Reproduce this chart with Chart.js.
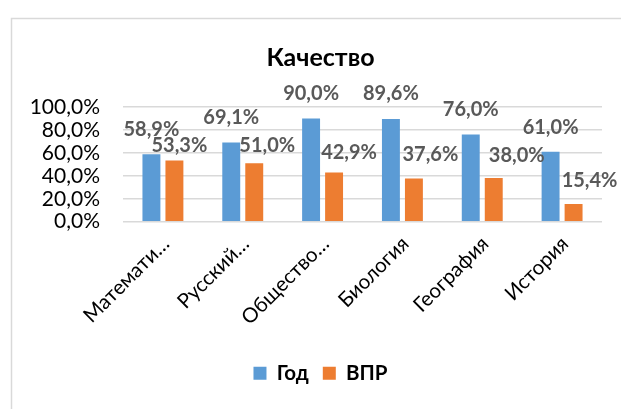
<!DOCTYPE html>
<html>
<head>
<meta charset="utf-8">
<script src="https://cdn.jsdelivr.net/npm/chart.js@4.4.1/dist/chart.umd.min.js"></script>
<style>
html,body{margin:0;padding:0;background:#fff;}
#wrap{position:relative;width:621px;height:409px;}
</style>
</head>
<body>
<div id="wrap"><canvas id="c" width="621" height="409"></canvas></div>
<script>
const categories = ["Математи…", "Русский…", "Общество…", "Биология", "География", "История"];
const seriesNames = ["Год", "ВПР"];
const godValues = [58.9, 69.1, 90.0, 89.6, 76.0, 61.0];
const vprValues = [53.3, 51.0, 42.9, 37.6, 38.0, 15.4];
const yTicks = [0, 20, 40, 60, 80, 100];
const chartTitle = "Качество";

const fmt = v => v.toFixed(1).replace('.', ',') + '%';

const framePlugin = {
  id: 'frame',
  beforeDraw(chart) {
    const ctx = chart.ctx;
    ctx.save();
    ctx.strokeStyle = '#D9D9D9';
    ctx.lineWidth = 1.5;
    ctx.beginPath();
    ctx.moveTo(11.5, 409);
    ctx.lineTo(11.5, 18.5);
    ctx.lineTo(621, 18.5);
    ctx.stroke();
    ctx.restore();
  }
};

const labelPlugin = {
  id: 'barLabels',
  afterDatasetsDraw(chart, args, opts) {
    const ctx = chart.ctx;
    ctx.save();
    ctx.font = 'bold 20px Lato';
    ctx.fillStyle = '#595959';
    ctx.textAlign = 'center';
    ctx.textBaseline = 'middle';
    chart.data.datasets.forEach((ds, di) => {
      const meta = chart.getDatasetMeta(di);
      const off = opts.offsets[di];
      meta.data.forEach((bar, i) => {
        ctx.fillText(fmt(ds.data[i]), bar.x + off.dx[i], bar.y - off.dy[i]);
      });
    });
    ctx.restore();
  }
};

new Chart(document.getElementById('c'), {
  type: 'bar',
  data: {
    labels: categories,
    datasets: [
      { label: seriesNames[0], data: godValues, backgroundColor: '#5B9BD5', borderWidth: 0,
        categoryPercentage: 0.576, barPercentage: 0.78 },
      { label: seriesNames[1], data: vprValues, backgroundColor: '#ED7D31', borderWidth: 0,
        categoryPercentage: 0.576, barPercentage: 0.78 }
    ]
  },
  plugins: [framePlugin, labelPlugin],
  options: {
    responsive: false,
    animation: false,
    devicePixelRatio: 1,
    layout: { padding: { left: 20, right: 0, top: 0, bottom: 15.5 } },
    plugins: {
      title: {
        display: true,
        text: chartTitle,
        color: '#000',
        font: { family: 'Lato', size: 25, weight: 'bold', lineHeight: 1.2 },
        padding: { top: 43, bottom: 34 }
      },
      legend: {
        position: 'bottom',
        labels: {
          color: '#000',
          font: { family: 'Lato', size: 20.5, weight: 'bold' },
          boxWidth: 13, boxHeight: 13, padding: 14
        }
      },
      tooltip: { enabled: false },
      barLabels: {
        offsets: [
          { dx: [0, 0, 0, 0, 0, 0], dy: [24.5, 24.5, 25, 25, 24.5, 24] },
          { dx: [5, 13, 15, 16.5, 23, 16], dy: [14.6, 18, 19.6, 23.7, 23, 23] }
        ]
      }
    },
    scales: {
      x: {
        grid: { display: false, drawTicks: false },
        border: { display: false },
        ticks: {
          color: '#000',
          font: { family: 'Lato', size: 20.5 },
          minRotation: 45, maxRotation: 45,
          autoSkip: false,
          padding: 10,
          labelOffset: 3
        },
        afterFit(s) { s.height = 127.3; }
      },
      y: {
        min: 0, max: 100,
        afterBuildTicks(s) { s.ticks = yTicks.map(v => ({ value: v })); },
        grid: { color: '#D9D9D9', lineWidth: 1.5, drawTicks: false },
        border: { display: false },
        ticks: {
          color: '#000',
          font: { family: 'Lato', size: 21 },
          padding: 23,
          autoSkip: false,
          callback: v => fmt(v)
        },
        afterFit(s) { s.width = 103; }
      },
      y2: {
        position: 'right',
        display: true,
        grid: { display: false, drawTicks: false },
        border: { display: false },
        ticks: { display: false },
        afterFit(s) { s.width = 19; }
      }
    }
  }
});
</script>
</body>
</html>
